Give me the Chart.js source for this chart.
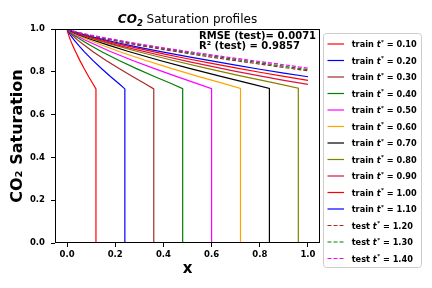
<!DOCTYPE html>
<html><head><meta charset="utf-8">
<script src="https://cdn.jsdelivr.net/npm/chart.js@4.4.0/dist/chart.umd.min.js"></script>
<style>html,body{margin:0;padding:0;background:#fff;}canvas{display:block;}</style>
</head><body>
<canvas id="c" width="432" height="288"></canvas>
<script>
// ---- data ----
const xTicks = [0.0, 0.2, 0.4, 0.6, 0.8, 1.0];
const yTicks = [0.0, 0.2, 0.4, 0.6, 0.8, 1.0];

const seriesTimes  = [0.10, 0.20, 0.30, 0.40, 0.50, 0.60, 0.70, 0.80, 0.90, 1.00, 1.10, 1.20, 1.30, 1.40];
const seriesKinds  = ['train','train','train','train','train','train','train','train','train','train','train','test','test','test'];
const seriesColors = ['#ff0000','#0000ff','#a52a2a','#008000','#ff00ff','#ffa500','#000000','#808000','#dc143c','#ff0000','#0000ff','#a52a2a','#008000','#ff00ff'];

const x_t010 = [0, 0.002, 0.007, 0.014, 0.024, 0.036, 0.054, 0.072, 0.090, 0.108, 0.120, 0.120, 1.0];
const s_t010 = [1, 0.988, 0.970, 0.948, 0.922, 0.892, 0.851, 0.813, 0.777, 0.743, 0.720, 0, 0];
const x_t020 = [0, 0.005, 0.014, 0.029, 0.048, 0.072, 0.108, 0.144, 0.180, 0.216, 0.240, 0.240, 1.0];
const s_t020 = [1, 0.988, 0.971, 0.949, 0.923, 0.893, 0.852, 0.814, 0.778, 0.744, 0.720, 0, 0];
const x_t030 = [0, 0.007, 0.022, 0.043, 0.072, 0.108, 0.162, 0.216, 0.270, 0.324, 0.360, 0.360, 1.0];
const s_t030 = [1, 0.988, 0.971, 0.949, 0.924, 0.894, 0.853, 0.815, 0.779, 0.744, 0.720, 0, 0];
const x_t040 = [0, 0.010, 0.029, 0.058, 0.096, 0.144, 0.216, 0.288, 0.360, 0.432, 0.480, 0.480, 1.0];
const s_t040 = [1, 0.989, 0.971, 0.950, 0.924, 0.894, 0.853, 0.815, 0.779, 0.745, 0.721, 0, 0];
const x_t050 = [0, 0.012, 0.036, 0.072, 0.120, 0.180, 0.270, 0.360, 0.450, 0.540, 0.600, 0.600, 1.0];
const s_t050 = [1, 0.989, 0.972, 0.950, 0.925, 0.895, 0.854, 0.816, 0.780, 0.745, 0.721, 0, 0];
const x_t060 = [0, 0.014, 0.043, 0.086, 0.144, 0.216, 0.324, 0.432, 0.540, 0.648, 0.720, 0.720, 1.0];
const s_t060 = [1, 0.989, 0.972, 0.951, 0.925, 0.895, 0.854, 0.816, 0.780, 0.746, 0.722, 0, 0];
const x_t070 = [0, 0.017, 0.050, 0.101, 0.168, 0.252, 0.378, 0.504, 0.630, 0.756, 0.840, 0.840, 1.0];
const s_t070 = [1, 0.989, 0.972, 0.951, 0.926, 0.896, 0.855, 0.817, 0.781, 0.746, 0.722, 0, 0];
const x_t080 = [0, 0.019, 0.058, 0.115, 0.192, 0.288, 0.432, 0.576, 0.720, 0.864, 0.960, 0.960, 1.0];
const s_t080 = [1, 0.989, 0.972, 0.951, 0.926, 0.896, 0.855, 0.817, 0.781, 0.747, 0.723, 0, 0];
const x_t090 = [0, 0.02, 0.05, 0.10, 0.20, 0.30, 0.40, 0.50, 0.60, 0.70, 0.80, 0.90, 1.00];
const s_t090 = [1, 0.988, 0.976, 0.958, 0.927, 0.900, 0.874, 0.849, 0.825, 0.802, 0.781, 0.760, 0.741];
const x_t100 = [0, 0.02, 0.05, 0.10, 0.20, 0.30, 0.40, 0.50, 0.60, 0.70, 0.80, 0.90, 1.00];
const s_t100 = [1, 0.989, 0.978, 0.962, 0.933, 0.908, 0.884, 0.861, 0.839, 0.818, 0.798, 0.779, 0.760];
const x_t110 = [0, 0.02, 0.05, 0.10, 0.20, 0.30, 0.40, 0.50, 0.60, 0.70, 0.80, 0.90, 1.00];
const s_t110 = [1, 0.990, 0.980, 0.965, 0.938, 0.914, 0.892, 0.871, 0.851, 0.831, 0.812, 0.794, 0.777];
const x_t120 = [0, 0.02, 0.05, 0.10, 0.20, 0.30, 0.40, 0.50, 0.60, 0.70, 0.80, 0.90, 1.00];
const s_t120 = [1, 0.991, 0.981, 0.967, 0.944, 0.923, 0.904, 0.886, 0.868, 0.852, 0.836, 0.820, 0.805];
const x_t130 = [0, 0.02, 0.05, 0.10, 0.20, 0.30, 0.40, 0.50, 0.60, 0.70, 0.80, 0.90, 1.00];
const s_t130 = [1, 0.991, 0.982, 0.969, 0.947, 0.927, 0.909, 0.891, 0.874, 0.858, 0.842, 0.826, 0.810];
const x_t140 = [0, 0.02, 0.05, 0.10, 0.20, 0.30, 0.40, 0.50, 0.60, 0.70, 0.80, 0.90, 1.00];
const s_t140 = [1, 0.992, 0.983, 0.971, 0.950, 0.930, 0.912, 0.895, 0.879, 0.863, 0.848, 0.833, 0.817];

const seriesX = [x_t010,x_t020,x_t030,x_t040,x_t050,x_t060,x_t070,x_t080,x_t090,x_t100,x_t110,x_t120,x_t130,x_t140];
const seriesS = [s_t010,s_t020,s_t030,s_t040,s_t050,s_t060,s_t070,s_t080,s_t090,s_t100,s_t110,s_t120,s_t130,s_t140];

const rmseText = 'RMSE (test)= 0.0071';
const r2Text = 'R² (test) = 0.9857';

// ---- chart ----
const FONT = '"DejaVu Sans", "Liberation Sans", sans-serif';
const N = seriesTimes.length;
const DASH = [4, 2];
const datasets = seriesTimes.map((t, i) => ({
  label: seriesKinds[i] + ' t* = ' + t.toFixed(2),
  data: seriesX[i].map((x, j) => ({x: x, y: seriesS[i][j]})),
  borderColor: seriesColors[i],
  borderWidth: 1.2,
  borderDash: seriesKinds[i] === 'test' ? DASH : [],
  pointRadius: 0,
  tension: 0,
  fill: false,
  order: N - i
}));

const overlay = {
  id: 'overlay',
  afterDraw(chart) {
    const ctx = chart.ctx, a = chart.chartArea;
    ctx.save();
    // frame
    ctx.strokeStyle = '#000'; ctx.lineWidth = 1; ctx.setLineDash([]);
    ctx.strokeRect(Math.round(a.left) + 0.5, Math.round(a.top) + 0.5,
                   Math.round(a.right - a.left) - 1, Math.round(a.bottom - a.top) - 1);
    // title
    ctx.fillStyle = '#000';
    ctx.textBaseline = 'alphabetic';
    ctx.textAlign = 'left';
    const fCO = 'italic bold 12px ' + FONT, fSub = 'italic bold 8.5px ' + FONT, fRest = '12px ' + FONT;
    ctx.font = fCO; const w1 = ctx.measureText('CO').width;
    ctx.font = fSub; const w2 = ctx.measureText('2').width;
    ctx.font = fRest; const w3 = ctx.measureText(' Saturation profiles').width;
    let tx = (a.left + a.right) / 2 - (w1 + w2 + w3) / 2;
    const ty = a.top - 5.7;
    ctx.font = fCO; ctx.fillText('CO', tx, ty); tx += w1;
    ctx.font = fSub; ctx.fillText('2', tx, ty + 2.5); tx += w2;
    ctx.font = fRest; ctx.fillText(' Saturation profiles', tx, ty);
    // annotation
    ctx.font = 'bold 10px ' + FONT;
    ctx.fillText(rmseText, a.left + 144, a.top + 10);
    ctx.fillText(r2Text, a.left + 144, a.top + 20);
    // legend box
    const lx = a.right + 3, ly = a.top + 4, lw = 98, lh = 234;
    ctx.beginPath();
    ctx.roundRect(lx + 0.5, ly + 0.5, lw, lh, 3);
    ctx.fillStyle = 'rgba(255,255,255,0.8)'; ctx.fill();
    ctx.strokeStyle = '#cccccc'; ctx.lineWidth = 1; ctx.stroke();
    for (let i = 0; i < N; i++) {
      const cy = a.top + 15 + i * 16.5;
      ctx.beginPath();
      ctx.strokeStyle = seriesColors[i];
      ctx.lineWidth = 1.2;
      ctx.setLineDash(seriesKinds[i] === 'test' ? DASH : []);
      ctx.moveTo(lx + 4.5, cy); ctx.lineTo(lx + 21, cy); ctx.stroke();
      ctx.setLineDash([]);
      ctx.fillStyle = '#000';
      let px = lx + 28.7; const by = cy + 3;
      ctx.font = 'bold 8.2px ' + FONT;
      const p1 = seriesKinds[i] + ' ';
      ctx.fillText(p1, px, by); px += ctx.measureText(p1).width;
      ctx.font = 'italic bold 8.2px ' + FONT;
      ctx.fillText('t', px, by); px += ctx.measureText('t').width + 0.5;
      ctx.font = 'bold 5.5px ' + FONT;
      ctx.fillText('*', px, by - 3.5); px += ctx.measureText('*').width;
      ctx.font = 'bold 8.2px ' + FONT;
      ctx.fillText(' = ' + seriesTimes[i].toFixed(2), px, by);
    }
    ctx.restore();
  }
};

new Chart(document.getElementById('c'), {
  type: 'line',
  data: { datasets: datasets },
  options: {
    responsive: false,
    animation: false,
    devicePixelRatio: 1,
    layout: { padding: { left: 0, right: 112, top: 29, bottom: 0 } },
    plugins: { legend: { display: false }, tooltip: { enabled: false }, title: { display: false } },
    scales: {
      x: {
        type: 'linear', min: -0.05, max: 1.05,
        afterBuildTicks: s => { s.ticks = xTicks.map(v => ({ value: v })); },
        afterFit: s => { s.height = 45; },
        ticks: { color: '#000', font: { family: FONT, size: 8.5, weight: 'bold' }, padding: 3,
                 maxRotation: 0, autoSkip: false, callback: v => Number(v).toFixed(1) },
        grid: { display: true, drawOnChartArea: false, drawTicks: true, tickLength: 4, color: '#000' },
        border: { display: false },
        title: { display: true, text: 'x', color: '#000', font: { family: FONT, size: 15, weight: 'bold' },
                 padding: { top: 0, bottom: 10 } }
      },
      y: {
        type: 'linear', min: 0, max: 1,
        afterBuildTicks: s => { s.ticks = yTicks.map(v => ({ value: v })); },
        afterFit: s => { s.width = 55; },
        ticks: { color: '#000', font: { family: FONT, size: 8.5, weight: 'bold' }, padding: 6,
                 autoSkip: false, callback: v => Number(v).toFixed(1) },
        grid: { display: true, drawOnChartArea: false, drawTicks: true, tickLength: 4, color: '#000' },
        border: { display: false },
        title: { display: true, text: 'CO₂ Saturation', color: '#000', font: { family: FONT, size: 16, weight: 'bold' },
                 padding: { top: 8.4, bottom: 0 } }
      }
    }
  },
  plugins: [overlay]
});
</script>
</body></html>
